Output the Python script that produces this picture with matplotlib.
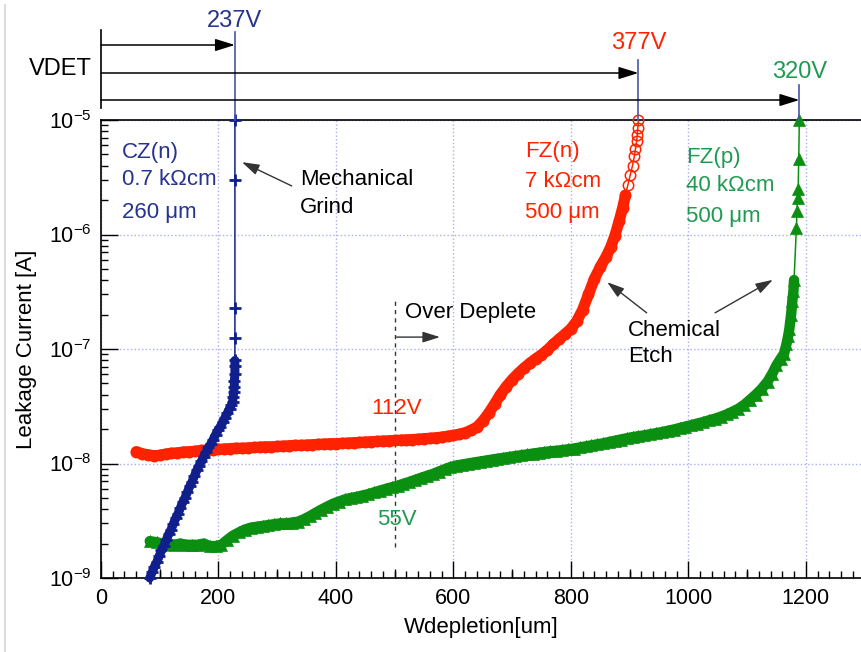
import matplotlib
matplotlib.use("Agg")
import matplotlib.pyplot as plt
from matplotlib.ticker import MultipleLocator, LogLocator, NullFormatter
from matplotlib.lines import Line2D

plt.rcParams['font.family'] = ['Liberation Sans', 'DejaVu Sans']
plt.rcParams['mathtext.fontset'] = 'custom'
plt.rcParams['mathtext.rm'] = 'Liberation Sans'
plt.rcParams['mathtext.it'] = 'Liberation Sans:italic'
plt.rcParams['mathtext.bf'] = 'Liberation Sans:bold'

# ---- measured leakage current vs. depletion width ----
# CZ(n), 0.7 kOhm cm, 260 um
cz_w = [83, 87, 91, 95, 99, 103, 107, 111, 115, 119, 123, 127, 131, 135, 139,
        143, 147, 151, 155, 159, 163, 167, 171, 175, 179, 183, 187, 191, 195,
        199, 203, 207, 211, 215, 219, 222, 224, 225, 226, 227, 227, 228, 228,
        228, 228, 228, 228, 228]
cz_i = [1.00e-9, 1.12e-9, 1.26e-9, 1.38e-9, 1.55e-9, 1.74e-9, 1.91e-9, 2.14e-9,
        2.40e-9, 2.63e-9, 2.95e-9, 3.31e-9, 3.63e-9, 4.07e-9, 4.57e-9, 5.01e-9,
        5.62e-9, 6.31e-9, 6.92e-9, 7.76e-9, 8.71e-9, 9.55e-9, 1.05e-8, 1.15e-8,
        1.26e-8, 1.38e-8, 1.48e-8, 1.62e-8, 1.78e-8, 1.95e-8, 2.09e-8, 2.29e-8,
        2.51e-8, 2.75e-8, 3.02e-8, 3.24e-8, 3.47e-8, 3.80e-8, 4.17e-8, 4.68e-8,
        5.25e-8, 6.03e-8, 7.08e-8, 7.94e-8, 1.26e-7, 2.29e-7, 3.02e-6, 1.00e-5]

# FZ(n), 7 kOhm cm, 500 um
fzn_w = [60, 70, 80, 90, 100, 110, 120, 130, 140, 150, 160, 170, 180, 190, 200,
         210, 220, 230, 240, 250, 260, 270, 280, 290, 300, 310, 320, 330, 340,
         350, 360, 370, 380, 390, 400, 410, 420, 430, 440, 450, 460, 470, 480,
         490, 500, 510, 520, 530, 540, 550, 560, 570, 580, 590, 600, 610, 620,
         630, 640, 650, 660, 670, 680, 690, 700, 710, 720, 730, 740, 750, 760,
         770, 780, 790, 800, 810, 820, 830, 840, 850, 860, 868, 875, 882, 888,
         893, 897, 901, 905, 908, 910, 912, 913, 914, 915]
fzn_i = [1.27e-8, 1.22e-8, 1.19e-8, 1.17e-8, 1.18e-8, 1.21e-8, 1.23e-8, 1.24e-8,
         1.26e-8, 1.27e-8, 1.28e-8, 1.30e-8, 1.31e-8, 1.32e-8, 1.33e-8, 1.34e-8,
         1.35e-8, 1.36e-8, 1.36e-8, 1.37e-8, 1.38e-8, 1.39e-8, 1.40e-8, 1.40e-8,
         1.41e-8, 1.42e-8, 1.43e-8, 1.44e-8, 1.44e-8, 1.45e-8, 1.46e-8, 1.47e-8,
         1.48e-8, 1.49e-8, 1.49e-8, 1.50e-8, 1.51e-8, 1.52e-8, 1.53e-8, 1.54e-8,
         1.55e-8, 1.56e-8, 1.57e-8, 1.58e-8, 1.59e-8, 1.60e-8, 1.61e-8, 1.62e-8,
         1.63e-8, 1.65e-8, 1.66e-8, 1.68e-8, 1.70e-8, 1.73e-8, 1.76e-8, 1.80e-8,
         1.86e-8, 1.95e-8, 2.08e-8, 2.35e-8, 2.75e-8, 3.30e-8, 4.00e-8, 4.70e-8,
         5.40e-8, 6.10e-8, 6.80e-8, 7.50e-8, 8.20e-8, 8.90e-8, 9.80e-8, 1.10e-7,
         1.22e-7, 1.35e-7, 1.50e-7, 1.75e-7, 2.20e-7, 3.00e-7, 4.10e-7, 5.20e-7,
         6.40e-7, 7.80e-7, 9.80e-7, 1.30e-6, 1.70e-6, 2.20e-6, 2.70e-6, 3.30e-6,
         4.00e-6, 4.80e-6, 5.60e-6, 6.50e-6, 7.40e-6, 8.50e-6, 1.00e-5]

# FZ(p), 40 kOhm cm, 500 um
fzp_w = [83, 95, 105, 115, 125, 135, 145, 155, 165, 175, 185, 195, 205, 215,
         225, 235, 245, 255, 265, 275, 285, 295, 305, 315, 325, 335, 345, 355,
         365, 375, 385, 395, 405, 415, 425, 435, 445, 455, 465, 475, 485, 495,
         505, 515, 525, 535, 545, 555, 565, 575, 585, 595, 605, 615, 625, 635,
         645, 655, 665, 675, 685, 695, 705, 715, 725, 735, 745, 755, 765, 775,
         785, 795, 805, 815, 825, 835, 845, 855, 865, 875, 885, 895, 905, 915,
         925, 935, 945, 955, 965, 975, 985, 995, 1005, 1015, 1025, 1035, 1045,
         1055, 1065, 1075, 1085, 1095, 1105, 1115, 1125, 1135, 1143, 1150, 1157,
         1163, 1167, 1170, 1172, 1175, 1177, 1179, 1180, 1184, 1185, 1186, 1187,
         1188, 1189]
fzp_i = [2.10e-9, 2.05e-9, 2.00e-9, 2.00e-9, 1.95e-9, 2.00e-9, 1.95e-9, 1.95e-9,
         1.95e-9, 2.00e-9, 1.90e-9, 1.90e-9, 1.95e-9, 2.15e-9, 2.35e-9, 2.50e-9,
         2.65e-9, 2.75e-9, 2.80e-9, 2.85e-9, 2.90e-9, 2.95e-9, 3.00e-9, 3.00e-9,
         3.05e-9, 3.10e-9, 3.25e-9, 3.45e-9, 3.70e-9, 3.95e-9, 4.20e-9, 4.45e-9,
         4.65e-9, 4.85e-9, 5.00e-9, 5.10e-9, 5.25e-9, 5.40e-9, 5.60e-9, 5.80e-9,
         6.00e-9, 6.20e-9, 6.40e-9, 6.65e-9, 6.90e-9, 7.20e-9, 7.50e-9, 7.80e-9,
         8.10e-9, 8.50e-9, 8.90e-9, 9.30e-9, 9.60e-9, 9.80e-9, 1.00e-8, 1.02e-8,
         1.04e-8, 1.06e-8, 1.08e-8, 1.10e-8, 1.12e-8, 1.14e-8, 1.16e-8, 1.18e-8,
         1.20e-8, 1.22e-8, 1.24e-8, 1.26e-8, 1.28e-8, 1.29e-8, 1.31e-8, 1.33e-8,
         1.35e-8, 1.38e-8, 1.41e-8, 1.44e-8, 1.47e-8, 1.50e-8, 1.54e-8, 1.58e-8,
         1.62e-8, 1.66e-8, 1.70e-8, 1.73e-8, 1.76e-8, 1.80e-8, 1.84e-8, 1.88e-8,
         1.93e-8, 1.98e-8, 2.04e-8, 2.10e-8, 2.16e-8, 2.23e-8, 2.30e-8, 2.38e-8,
         2.46e-8, 2.56e-8, 2.68e-8, 2.83e-8, 3.00e-8, 3.25e-8, 3.60e-8, 4.00e-8,
         4.50e-8, 5.20e-8, 6.10e-8, 7.20e-8, 8.20e-8, 9.10e-8, 1.10e-7, 1.30e-7,
         1.50e-7, 2.00e-7, 2.60e-7, 3.20e-7, 4.00e-7, 1.15e-6, 1.60e-6, 2.10e-6,
         2.50e-6, 4.60e-6, 1.00e-5]

# full-depletion voltages (VDET) of the three wafers
vdet_labels = ["237V", "377V", "320V"]
# voltages at the 500 um over-depletion line
od_labels = ["112V", "55V"]
od_width = 500

BLUE = "#101f8c"
BLUE_TXT = "#26338f"
RED = "#ff2200"
GREEN = "#0b8f10"
GREEN_TXT = "#1f9a50"
VLINE = "#4a55aa"

W, H = 861, 652
fig = plt.figure(figsize=(W / 100, H / 100), dpi=100)
left, right, top_px, bot_px = 101, 861, 120, 578
ax = fig.add_axes([left / W, (H - bot_px) / H, (right - left) / W,
                   (bot_px - top_px) / H])

ax.set_yscale('log')
ax.set_xlim(0, 1294)
ax.set_ylim(1e-9, 1e-5)


def draw_series(w, i, color, band_below, band_lw, **mk):
    # densely sampled part merges into a solid band of markers
    n = sum(1 for v in i if v < band_below)
    ax.plot(w[:n], i[:n], color=color, lw=band_lw, solid_capstyle='round',
            solid_joinstyle='round', clip_on=False, zorder=mk.get('zorder', 3))
    ax.plot(w, i, color=color, lw=1.1, clip_on=False, **mk)


draw_series(fzn_w, fzn_i, RED, 2.5e-6, 8.0, marker='o', mfc='none', mec=RED,
            ms=7.5, mew=1.1, zorder=3)
draw_series(fzp_w, fzp_i, GREEN, 4.5e-7, 7.5, marker='^', ms=8, mew=0.5,
            mfc=GREEN, mec=GREEN, zorder=4)
draw_series(cz_w, cz_i, BLUE, 1.0e-7, 6.5, marker='+', ms=9, mew=2.0,
            zorder=5)

# axes styling
ax.spines['right'].set_visible(False)
for s in ('left', 'bottom', 'top'):
    ax.spines[s].set_linewidth(1.2)
ax.set_axisbelow(True)
ax.grid(True, which='major', color='#a8aef0', ls=':', lw=1.0)
ax.grid(False, which='minor')

ax.xaxis.set_major_locator(MultipleLocator(200))
ax.xaxis.set_minor_locator(MultipleLocator(20))
ax.yaxis.set_major_locator(LogLocator(base=10, numticks=10))
ax.yaxis.set_minor_locator(LogLocator(base=10, subs=range(2, 10), numticks=10))
ax.yaxis.set_minor_formatter(NullFormatter())
ax.tick_params(axis='both', which='major', direction='in', length=12,
               width=1.0, labelsize=15.5, pad=7, top=False, right=False)
ax.tick_params(axis='both', which='minor', direction='in', length=5,
               width=1.0, top=False, right=False)

# medium ticks at the odd hundreds
ax.vlines([100, 300, 500, 700, 900, 1100], 0, 9 / (bot_px - top_px),
          transform=ax.get_xaxis_transform(), color='black', lw=1.0,
          zorder=2.5)

ax.set_xlabel("Wdepletion[um]", fontsize=16, labelpad=6)
ax.set_ylabel("Leakage Current [A]", fontsize=16, labelpad=8)


# sample descriptions
def lines(x, ys, texts, color):
    for y, t in zip(ys, texts):
        ax.text(x, y, t, color=color, fontsize=16, va='center', ha='left',
                transform=ax.transAxes)


lines(0.028, [0.930, 0.869, 0.797], ["CZ(n)", "0.7 k\u03a9cm", "260 \u03bcm"], BLUE_TXT)
lines(0.558, [0.932, 0.865, 0.799], ["FZ(n)", "7 k\u03a9cm", "500 \u03bcm"], RED)
lines(0.770, [0.919, 0.858, 0.790], ["FZ(p)", "40 k\u03a9cm", "500 \u03bcm"], GREEN_TXT)
lines(0.262, [0.869, 0.808], ["Mechanical", "Grind"], "black")
lines(0.693, [0.541, 0.483], ["Chemical", "Etch"], "black")
ax.text(0.400, 0.579, "Over Deplete", fontsize=16, va='center', ha='left',
        transform=ax.transAxes)

arrow_kw = dict(arrowstyle='-|>,head_length=0.7,head_width=0.22',
                mutation_scale=15, color='#333333', lw=1.0,
                shrinkA=0, shrinkB=0)
for tail, head in [((0.251, 0.856), (0.1855, 0.908)),
                   ((0.389, 0.526), (0.446, 0.526)),
                   ((0.718, 0.579), (0.666, 0.646)),
                   ((0.808, 0.579), (0.884, 0.651))]:
    ax.annotate("", xy=head, xytext=tail, xycoords='axes fraction',
                textcoords='axes fraction', arrowprops=arrow_kw)

# over-depletion marker at 500 um
ax.plot([od_width, od_width], [1.85e-9, 2.75e-7], color='#333333', lw=1.0,
        ls=(0, (3, 3)), zorder=2)
ax.text(0.389, 0.371, od_labels[0], color=RED, fontsize=16, ha='center',
        va='center', transform=ax.transAxes)
ax.text(0.389, 0.127, od_labels[1], color=GREEN_TXT, fontsize=16, ha='center',
        va='center', transform=ax.transAxes)

# VDET strip above the plot, sharing the depletion-width scale
top = fig.add_axes([left / W, (H - top_px) / H, (right - left) / W, top_px / H],
                   sharex=ax)
top.set_ylim(0, 120)
top.axis('off')
top.plot([0, 0], [12, 90], color='black', lw=1.2, clip_on=False)
ends = [(cz_w[-1], 75, 88, 99, BLUE_TXT),
        (fzn_w[-1], 47, 60, 77, RED),
        (fzp_w[-1], 20, 35, 48, GREEN_TXT)]
for (xe, ya, yv, yl, col), lab in zip(ends, vdet_labels):
    top.annotate("", xy=(xe, ya), xytext=(0, ya), xycoords='data',
                 textcoords='data',
                 arrowprops=dict(arrowstyle='-|>,head_length=0.8,head_width=0.25',
                                 mutation_scale=15, color='black', lw=1.1,
                                 shrinkA=0, shrinkB=0), annotation_clip=False)
    top.plot([xe, xe], [0, yv], color=VLINE, lw=1.2, clip_on=False)
    top.text(xe, yl, lab, color=col, fontsize=17, ha='center', va='center')
top.text(-70, 51, "VDET", fontsize=17, ha='center', va='center')

# faint frame edge on the left
fig.add_artist(Line2D([5 / W, 5 / W], [0.002, 1 - 5 / H], color='#dcdcdc',
                      lw=1.5, transform=fig.transFigure))

fig.savefig("out.png", dpi=100)
